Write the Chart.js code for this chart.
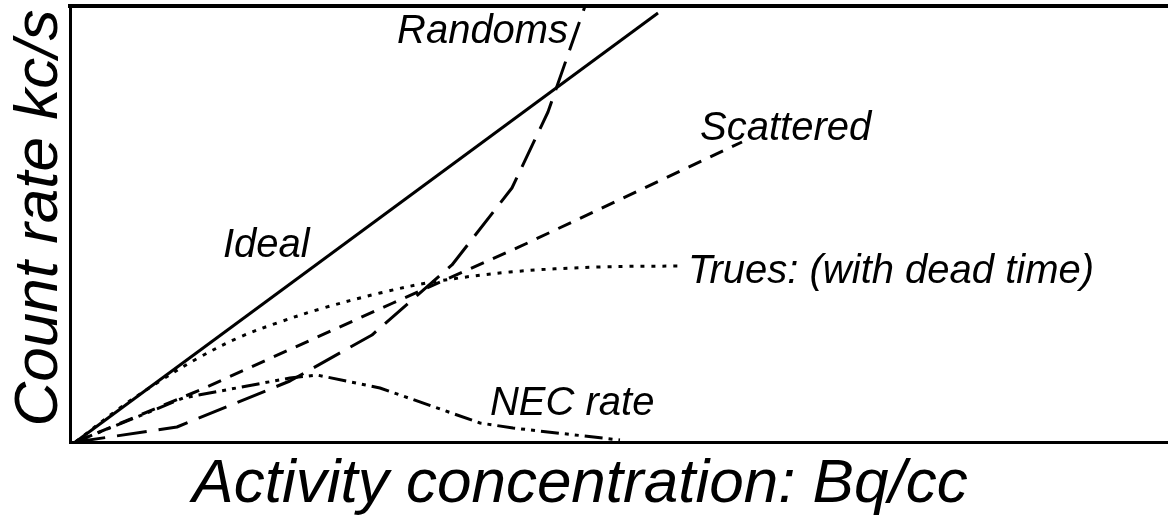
<!DOCTYPE html>
<html>
<head>
<meta charset="utf-8">
<script src="https://cdn.jsdelivr.net/npm/chart.js@4/dist/chart.umd.min.js"></script>
<style>
  html, body { margin: 0; padding: 0; background: #ffffff; }
  #wrap { width: 1168px; height: 517px; }
</style>
</head>
<body>
<div id="wrap"><canvas id="c" width="1168" height="517"></canvas></div>
<script>
// Activity (arbitrary units) and count rates (arbitrary units) for each curve
const idealX = [0, 53.32];
const idealY = [0, 98.39];

const randomsX = [0, 9.29, 19.63, 27.14, 34.46, 39.95, 43.25, 46.64];
const randomsY = [0, 3.44, 13.99, 24.54, 40.60, 58.26, 75.69, 100];

const scatteredX = [0, 11.40, 29.06, 40.41, 61.01];
const scatteredY = [0, 11.93, 31.88, 44.50, 68.81];

const truesX = [0, 4.07, 7.73, 11.40, 15.06, 18.44, 22.38, 27.87, 32.72, 39.77, 48.01, 55.51];
const truesY = [0, 7.80, 13.99, 19.50, 24.08, 27.29, 30.50, 34.17, 36.70, 38.99, 40.14, 40.37];

const necX = [0, 5.63, 9.84, 19.63, 22.10, 27.87, 37.03, 40.05, 49.84];
const necY = [0, 5.73, 10.09, 14.68, 15.37, 12.39, 4.36, 3.21, 0.46];

const seriesNames = ['Ideal', 'Randoms', 'Scattered', 'Trues: (with dead time)', 'NEC rate'];
const xTitle = 'Activity concentration: Bq/cc';
const yTitle = 'Count rate kc/s';

const FONT = '"Liberation Sans", Arial, Helvetica, sans-serif';

function pts(xs, ys) { return xs.map((x, i) => ({ x: x, y: ys[i] })); }

function lineSet(label, xs, ys, dash, tension) {
  return {
    label: label,
    data: pts(xs, ys),
    borderColor: '#000000',
    backgroundColor: '#000000',
    borderWidth: 3,
    borderDash: dash,
    borderCapStyle: 'butt',
    borderJoinStyle: 'round',
    pointRadius: 0,
    pointHoverRadius: 0,
    fill: false,
    tension: tension || 0,
    clip: false
  };
}

// In-plot curve names, anchored in data space (left edge, baseline)
const curveLabels = [
  { text: seriesNames[1], x: 29.43, y: 91.51 },
  { text: seriesNames[0], x: 13.50, y: 42.43 },
  { text: seriesNames[2], x: 57.17, y: 69.27 },
  { text: seriesNames[3], x: 56.07, y: 36.47 },
  { text: seriesNames[4], x: 37.94, y: 6.19 }
];

const textPlugin = {
  id: 'curveText',
  afterDatasetsDraw(chart) {
    const ctx = chart.ctx;
    const xs = chart.scales.x, ys = chart.scales.y;
    const area = chart.chartArea;
    ctx.save();
    ctx.fillStyle = '#000000';
    ctx.textAlign = 'left';
    ctx.textBaseline = 'alphabetic';
    ctx.font = 'italic 40px ' + FONT;
    curveLabels.forEach(l => {
      ctx.fillText(l.text, xs.getPixelForValue(l.x), ys.getPixelForValue(l.y));
    });

    // axis titles
    ctx.font = 'italic 62px ' + FONT;
    ctx.textAlign = 'center';
    ctx.fillText(xTitle, 580, 502);

    ctx.save();
    ctx.translate(57, 218);
    ctx.rotate(-Math.PI / 2);
    ctx.fillText(yTitle, 0, 0);
    ctx.restore();
    ctx.restore();
  }
};

new Chart(document.getElementById('c'), {
  type: 'line',
  data: {
    datasets: [
      lineSet(seriesNames[0], idealX, idealY, []),
      lineSet(seriesNames[1], randomsX, randomsY, [30, 12]),
      lineSet(seriesNames[2], scatteredX, scatteredY, [14, 10]),
      lineSet(seriesNames[3], truesX, truesY, [4, 7], 0.35),
      lineSet(seriesNames[4], necX, necY, [18, 6, 4, 6, 4, 6])
    ]
  },
  options: {
    responsive: false,
    devicePixelRatio: 1,
    animation: false,
    events: [],
    layout: { padding: 0 },
    plugins: {
      legend: { display: false },
      tooltip: { enabled: false },
      title: { display: false }
    },
    scales: {
      x: {
        type: 'linear',
        position: 'bottom',
        min: -0.5,
        max: 100,
        grid: { display: false, drawTicks: false },
        ticks: { display: false },
        border: { display: true, color: '#000000', width: 3 },
        afterFit(scale) { scale.height = 75; }
      },
      xTop: {
        type: 'linear',
        position: 'top',
        min: -0.5,
        max: 100,
        grid: { display: false, drawTicks: false },
        ticks: { display: false },
        border: { display: true, color: '#000000', width: 4 },
        afterFit(scale) { scale.height = 6; }
      },
      y: {
        type: 'linear',
        position: 'left',
        min: 0,
        max: 100,
        grid: { display: false, drawTicks: false },
        ticks: { display: false },
        border: { display: true, color: '#000000', width: 3 },
        afterFit(scale) { scale.width = 70; }
      }
    }
  },
  plugins: [textPlugin]
});
</script>
</body>
</html>
